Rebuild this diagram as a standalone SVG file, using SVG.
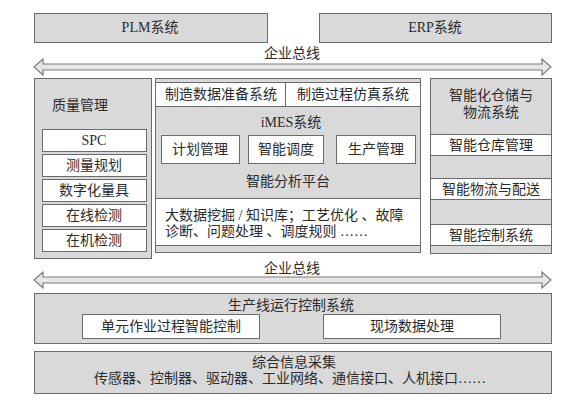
<svg xmlns="http://www.w3.org/2000/svg" width="573" height="400" viewBox="0 0 573 400">
<style>
.g{fill:#d9d9d9;stroke:#6b6b6b;stroke-width:1}
.w{fill:#ffffff;stroke:#6b6b6b;stroke-width:1}
.bus{fill:#e6e6e6;stroke:#7a7a7a;stroke-width:1.2}
text{font-family:"Liberation Serif","Noto Sans CJK SC",serif;font-size:14px;fill:#2b2b2b}
.c{text-anchor:middle}
</style>
<rect width="573" height="400" fill="#ffffff"/>
<g id="plm"><rect class="g" x="34.5" y="13.5" width="233" height="29"/><text class="c" x="150" y="32">PLM系统</text></g>
<g id="erp"><rect class="g" x="319.5" y="13.5" width="232" height="29"/><text class="c" x="435" y="32">ERP系统</text></g>
<g id="connectors">
<polygon class="bus" points="34,67 43,59 43,64 542,64 542,59 551,67 542,75 542,70 43,70 43,75"/>
<text class="c" x="292" y="58">企业总线</text>
<polygon class="bus" points="34,280 43,272 43,277 542,277 542,272 551,280 542,288 542,283 43,283 43,288"/>
<text class="c" x="292" y="273">企业总线</text>
</g>
<g id="quality">
<rect class="g" x="34.5" y="78.5" width="117" height="180"/>
<text x="52" y="110">质量管理</text>
<rect class="w" x="42.5" y="129.5" width="104" height="22"/><text class="c" x="94" y="145">SPC</text>
<rect class="w" x="42.5" y="154.5" width="104" height="22"/><text class="c" x="94" y="170">测量规划</text>
<rect class="w" x="42.5" y="179.5" width="104" height="22"/><text class="c" x="94" y="195">数字化量具</text>
<rect class="w" x="42.5" y="204.5" width="104" height="22"/><text class="c" x="94" y="220">在线检测</text>
<rect class="w" x="42.5" y="229.5" width="104" height="22"/><text class="c" x="94" y="245">在机检测</text>
</g>
<g id="imes">
<rect class="g" x="155.5" y="78.5" width="265" height="174"/>
<rect class="w" x="155.5" y="82.5" width="130" height="24"/><text class="c" x="221" y="99">制造数据准备系统</text>
<rect class="w" x="285.5" y="82.5" width="135" height="24"/><text class="c" x="353" y="99">制造过程仿真系统</text>
<text class="c" x="291" y="127">iMES系统</text>
<rect class="w" x="161.5" y="135.5" width="78" height="28"/><text class="c" x="200" y="154">计划管理</text>
<rect class="w" x="248.5" y="135.5" width="75" height="28"/><text class="c" x="286" y="154">智能调度</text>
<rect class="w" x="336.5" y="135.5" width="79" height="28"/><text class="c" x="376" y="154">生产管理</text>
<text class="c" x="288" y="186">智能分析平台</text>
<rect class="w" x="155.5" y="198.5" width="265" height="47"/>
<text x="165" y="220">大数据挖掘 / 知识库；工艺优化 、故障</text>
<text x="165" y="236">诊断、问题处理 、调度规则 ……</text>
</g>
<g id="logistics">
<rect class="g" x="430.5" y="78.5" width="121" height="175"/>
<text class="c" x="491" y="100">智能化仓储与</text>
<text class="c" x="491" y="117">物流系统</text>
<rect class="w" x="430.5" y="134.5" width="121" height="21"/><text class="c" x="491" y="150">智能仓库管理</text>
<rect class="w" x="430.5" y="178.5" width="121" height="21"/><text class="c" x="491" y="194">智能物流与配送</text>
<rect class="w" x="430.5" y="224.5" width="121" height="21"/><text class="c" x="491" y="240">智能控制系统</text>
</g>
<g id="production">
<rect class="g" x="34.5" y="293.5" width="517" height="50"/>
<text class="c" x="291" y="310">生产线运行控制系统</text>
<rect class="w" x="82.5" y="314.5" width="177" height="24"/><text class="c" x="171" y="331">单元作业过程智能控制</text>
<rect class="w" x="323.5" y="314.5" width="177" height="24"/><text class="c" x="412" y="331">现场数据处理</text>
</g>
<g id="collect">
<rect class="g" x="34.5" y="351.5" width="517" height="42"/>
<text class="c" x="294" y="367">综合信息采集</text>
<text class="c" x="290" y="383">传感器、控制器、驱动器、工业网络、通信接口、人机接口……</text>
</g>
</svg>
